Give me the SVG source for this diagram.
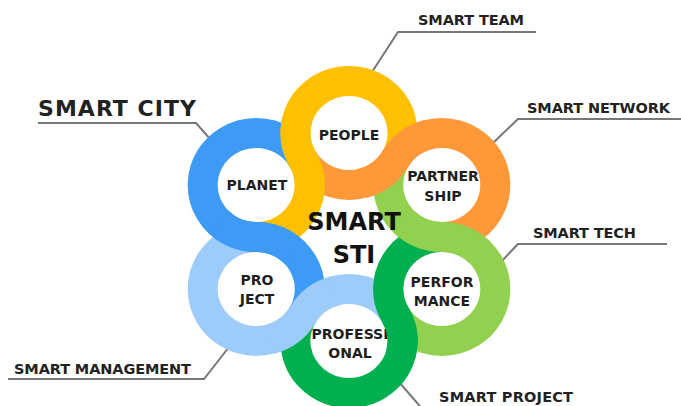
<svg xmlns="http://www.w3.org/2000/svg" width="681" height="406" viewBox="0 0 681 406">
  <style>
    .band{fill:none;stroke-width:30;stroke-linecap:butt}
    .yellow{stroke:#FFC000}
    .orange{stroke:#FF9838}
    .lgreen{stroke:#92D050}
    .green{stroke:#00B04F}
    .lblue{stroke:#9DCCFB}
    .blue{stroke:#3D9BF6}
    .lead{fill:none;stroke:#777;stroke-width:2;stroke-linejoin:miter}
    .node{font-family:"DejaVu Sans","Liberation Sans",sans-serif;font-weight:bold;font-size:14px;fill:#1e1e1e;text-anchor:middle}
    .tag{font-family:"DejaVu Sans","Liberation Sans",sans-serif;font-weight:bold;font-size:14.5px;fill:#222}
    .big{font-size:22px}
    .hub{font-family:"DejaVu Sans","Liberation Sans",sans-serif;font-weight:bold;font-size:24px;fill:#111;text-anchor:middle}
  </style>
  <rect width="681" height="406" fill="#fff"/>

  <!-- leader lines from each ring to its callout -->
  <g id="connectors">
    <polyline class="lead" points="372,72 398,32 536,32"/>
    <polyline class="lead" points="211,140 196,123 38,123"/>
    <polyline class="lead" points="492,144 518,119 681,119"/>
    <polyline class="lead" points="500,263 518,244 667,244"/>
    <polyline class="lead" points="229,347 204,379 8,379"/>
    <polyline class="lead" points="399,382 425,412"/>
  </g>

  <!-- each band: outer arc of its own ring, then an S into the inner arc of the next ring -->
  <g id="node-people">
    <path class="band yellow" d="M395.38,159 A53.56,52 0 1 0 302.62,159 A53.56,52 0 0 1 256.23,237"/>
    <text class="node" x="349" y="140">PEOPLE</text>
  </g>
  <g id="node-partnership">
    <path class="band orange" d="M441.77,237 A53.56,52 0 1 0 395.38,159 A53.56,52 0 0 1 302.62,159"/>
    <text class="node" x="443" y="181">PARTNER</text>
    <text class="node" x="443" y="201">SHIP</text>
  </g>
  <g id="node-performance">
    <path class="band lgreen" d="M395.38,315 A53.56,52 0 1 0 441.77,237 A53.56,52 0 0 1 395.38,159"/>
    <text class="node" x="442" y="287">PERFOR</text>
    <text class="node" x="442" y="306">MANCE</text>
  </g>
  <g id="node-professional">
    <path class="band green" d="M302.62,315 A53.56,52 0 1 0 395.38,315 A53.56,52 0 0 1 441.77,237"/>
    <text class="node" x="350" y="339">PROFESSI</text>
    <text class="node" x="350" y="358">ONAL</text>
  </g>
  <g id="node-project">
    <path class="band lblue" d="M256.23,237 A53.56,52 0 1 0 302.62,315 A53.56,52 0 0 1 395.38,315"/>
    <text class="node" x="257" y="285">PRO</text>
    <text class="node" x="257" y="304">JECT</text>
  </g>
  <g id="node-planet">
    <path class="band blue" d="M302.62,159 A53.56,52 0 1 0 256.23,237 A53.56,52 0 0 1 302.62,315"/>
    <text class="node" x="257" y="190">PLANET</text>
  </g>

  <!-- the S-crossings redrawn so each passing band lies on top -->
  <g id="crossings">
    <path class="band yellow" d="M297.26,119.54 A53.56,52 0 0 0 302.62,159 A53.56,52 0 0 1 307.96,198.46"/>
    <path class="band orange" d="M427.91,134.77 A53.56,52 0 0 0 395.38,159 A53.56,52 0 0 1 362.86,183.23"/>
    <path class="band lgreen" d="M479.65,252.23 A53.56,52 0 0 0 441.77,237 A53.56,52 0 0 1 403.90,221.77"/>
    <path class="band green" d="M400.74,354.46 A53.56,52 0 0 0 395.38,315 A53.56,52 0 0 1 390.04,275.54"/>
    <path class="band lblue" d="M270.09,339.23 A53.56,52 0 0 0 302.62,315 A53.56,52 0 0 1 335.14,290.77"/>
    <path class="band blue" d="M218.35,221.77 A53.56,52 0 0 0 256.23,237 A53.56,52 0 0 1 294.10,252.23"/>
  </g>

  <g id="hub">
    <text class="hub" x="354" y="230">SMART</text>
    <text class="hub" x="354" y="263">STI</text>
  </g>

  <g id="label-team"><text class="tag" x="418" y="25" textLength="106">SMART TEAM</text></g>
  <g id="label-city"><text class="tag big" x="38" y="116" textLength="158">SMART CITY</text></g>
  <g id="label-network"><text class="tag" x="527" y="113" textLength="143">SMART NETWORK</text></g>
  <g id="label-tech"><text class="tag" x="533" y="238" textLength="103">SMART TECH</text></g>
  <g id="label-management"><text class="tag" x="14" y="374" textLength="177">SMART MANAGEMENT</text></g>
  <g id="label-project"><text class="tag" x="439" y="402" textLength="134">SMART PROJECT</text></g>
</svg>
